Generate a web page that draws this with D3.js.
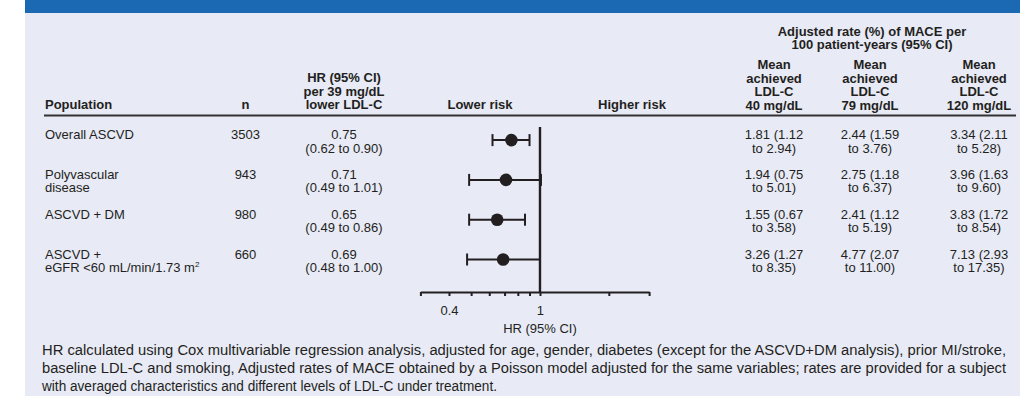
<!DOCTYPE html>
<html>
<head>
<meta charset="utf-8">
<script src="https://cdn.jsdelivr.net/npm/d3@7"></script>
<style>
  html, body { margin: 0; padding: 0; background: #fff; }
  svg { display: block; }
  text { font-family: "Liberation Sans", Arial, Helvetica, sans-serif; fill: #231f20; }
</style>
</head>
<body>
<svg id="chart" width="1020" height="396"></svg>
<script>
// ---- Data ----
const populations = [["Overall ASCVD"], ["Polyvascular", "disease"], ["ASCVD + DM"], ["ASCVD +", "eGFR <60 mL/min/1.73 m"]];
const populationSup = ["", "", "", "2"];
const nCounts = [3503, 943, 980, 660];

const hr = [0.75, 0.71, 0.65, 0.69];
const hrLow = [0.62, 0.49, 0.49, 0.48];
const hrHigh = [0.90, 1.01, 0.86, 1.00];

const rate40 = [1.81, 1.94, 1.55, 3.26];
const rate40Low = [1.12, 0.75, 0.67, 1.27];
const rate40High = [2.94, 5.01, 3.58, 8.35];

const rate79 = [2.44, 2.75, 2.41, 4.77];
const rate79Low = [1.59, 1.18, 1.12, 2.07];
const rate79High = [3.76, 6.37, 5.19, 11.00];

const rate120 = [3.34, 3.96, 3.83, 7.13];
const rate120Low = [2.11, 1.63, 1.72, 2.93];
const rate120High = [5.28, 9.60, 8.54, 17.35];

const rateColumnHeads = [
  ["Mean", "achieved", "LDL-C", "40 mg/dL"],
  ["Mean", "achieved", "LDL-C", "79 mg/dL"],
  ["Mean", "achieved", "LDL-C", "120 mg/dL"]
];

const axisTickValues = [0.3, 0.4, 0.5, 0.6, 0.7, 0.8, 0.9, 1, 2, 3];
const axisTickLabels = ["", "0.4", "", "", "", "", "", "1", "", ""];

const footnoteLines = [
  "HR calculated using Cox multivariable regression analysis, adjusted for age, gender, diabetes (except for the ASCVD+DM analysis), prior MI/stroke,",
  "baseline LDL-C and smoking, Adjusted rates of MACE obtained by a Poisson model adjusted for the same variables; rates are provided for a subject",
  "with averaged characteristics and different levels of LDL-C under treatment."
];

// ---- Layout ----
const svg = d3.select("#chart");
const ink = "#231f20";
const fs = 13;
const lineGap = 13.4;
const capShift = 4.6; // baseline offset from text centre

// panel background and top band
svg.append("rect").attr("x", 25).attr("y", 0).attr("width", 995).attr("height", 396).attr("fill", "#e8eaf6");
svg.append("rect").attr("x", 25).attr("y", 0).attr("width", 995).attr("height", 13).attr("fill", "#1b68b3");

// column centres
const colX = { pop: 45, n: 245.5, hr: 344, lower: 480, higher: 632, r40: 774, r79: 870, r120: 979 };

// ---- Header ----
const head = svg.append("g").attr("font-weight", "bold").attr("font-size", fs);
const headBase = 104.5 + capShift;
function headLines(x, lines, anchor, bottomY) {
  const t = head.append("text").attr("text-anchor", anchor);
  lines.forEach((s, i) => {
    t.append("tspan").attr("x", x).attr("y", bottomY - (lines.length - 1 - i) * lineGap).text(s);
  });
}
headLines(colX.pop, ["Population"], "start", headBase);
headLines(colX.n, ["n"], "middle", headBase);
headLines(colX.hr, ["HR (95% CI)", "per 39 mg/dL", "lower LDL-C"], "middle", headBase);
headLines(colX.lower, ["Lower risk"], "middle", headBase);
headLines(colX.higher, ["Higher risk"], "middle", headBase);
headLines(872, ["Adjusted rate (%) of MACE per", "100 patient-years (95% CI)"], "middle", 44.3 + capShift);
[colX.r40, colX.r79, colX.r120].forEach((x, i) => headLines(x, rateColumnHeads[i], "middle", headBase + 0.5));

// header rule
svg.append("line").attr("x1", 44).attr("x2", 1016).attr("y1", 115.5).attr("y2", 115.5)
  .attr("stroke", "#333").attr("stroke-width", 2);

// ---- Rows ----
const rowIdx = d3.range(populations.length);
const y = d3.scalePoint().domain(rowIdx).range([134.6, 254]);

const body = svg.append("g").attr("font-size", fs);
rowIdx.forEach(i => {
  const y0 = y(i) + capShift;
  // population
  const pt = body.append("text").attr("text-anchor", "start");
  populations[i].forEach((s, k) => {
    pt.append("tspan").attr("x", colX.pop).attr("y", y0 + k * lineGap).text(s);
    if (k === populations[i].length - 1 && populationSup[i]) {
      pt.append("tspan").attr("font-size", 8).attr("dy", -5).text(populationSup[i]);
    }
  });
  // n
  body.append("text").attr("text-anchor", "middle").attr("x", colX.n).attr("y", y0).text(nCounts[i]);
  // HR text
  const ht = body.append("text").attr("text-anchor", "middle");
  ht.append("tspan").attr("x", colX.hr).attr("y", y0).text(hr[i].toFixed(2));
  ht.append("tspan").attr("x", colX.hr).attr("y", y0 + lineGap)
    .text(`(${hrLow[i].toFixed(2)} to ${hrHigh[i].toFixed(2)})`);
  // rate columns
  [[rate40, rate40Low, rate40High, colX.r40],
   [rate79, rate79Low, rate79High, colX.r79],
   [rate120, rate120Low, rate120High, colX.r120]].forEach(([v, lo, hi, x]) => {
    const t = body.append("text").attr("text-anchor", "middle");
    t.append("tspan").attr("x", x).attr("y", y0).text(`${v[i].toFixed(2)} (${lo[i].toFixed(2)}`);
    t.append("tspan").attr("x", x).attr("y", y0 + lineGap).text(`to ${hi[i].toFixed(2)})`);
  });
});

// ---- Forest plot ----
const xAxisY = 292;
const x = d3.scaleLog().domain([0.3, 3]).range([420.4, 649.1]);
const plot = svg.append("g");

// reference line at HR = 1
plot.append("line").attr("x1", x(1)).attr("x2", x(1)).attr("y1", 127).attr("y2", xAxisY)
  .attr("stroke", ink).attr("stroke-width", 2.4);

const dotY = i => y(i) + 5.5;
const capH = 6;
rowIdx.forEach(i => {
  const cy = dotY(i);
  plot.append("line").attr("x1", x(hrLow[i])).attr("x2", x(hrHigh[i])).attr("y1", cy).attr("y2", cy)
    .attr("stroke", ink).attr("stroke-width", 2);
  [hrLow[i], hrHigh[i]].forEach(v => {
    plot.append("line").attr("x1", x(v)).attr("x2", x(v)).attr("y1", cy - capH).attr("y2", cy + capH)
      .attr("stroke", ink).attr("stroke-width", 2);
  });
  plot.append("circle").attr("cx", x(hr[i])).attr("cy", cy).attr("r", 6.3).attr("fill", ink);
});

// x axis
const axis = d3.axisBottom(x)
  .tickValues(axisTickValues)
  .tickFormat((d, k) => axisTickLabels[k])
  .tickSize(4).tickSizeOuter(0).tickPadding(9.4);
const ag = svg.append("g").attr("transform", `translate(0,${xAxisY})`).call(axis);
ag.select(".domain").attr("stroke", ink).attr("stroke-width", 2.2);
ag.selectAll(".tick line").attr("stroke", ink).attr("stroke-width", 2);
ag.selectAll(".tick text").attr("font-size", fs).attr("fill", ink)
  .attr("font-family", "'Liberation Sans', Arial, Helvetica, sans-serif");

svg.append("text").attr("x", x(1)).attr("y", 328 + capShift).attr("text-anchor", "middle")
  .attr("font-size", fs).text("HR (95% CI)");

// ---- Footnote ----
// the note is set in a condensed face; each line is fitted to its measure
const footWidths = [964, 964, 455];
footnoteLines.forEach((s, i) => {
  svg.append("text").attr("x", 42).attr("y", 355 + i * 18).attr("font-size", 14)
    .attr("textLength", footWidths[i]).attr("lengthAdjust", "spacingAndGlyphs").text(s);
});
</script>
</body>
</html>
